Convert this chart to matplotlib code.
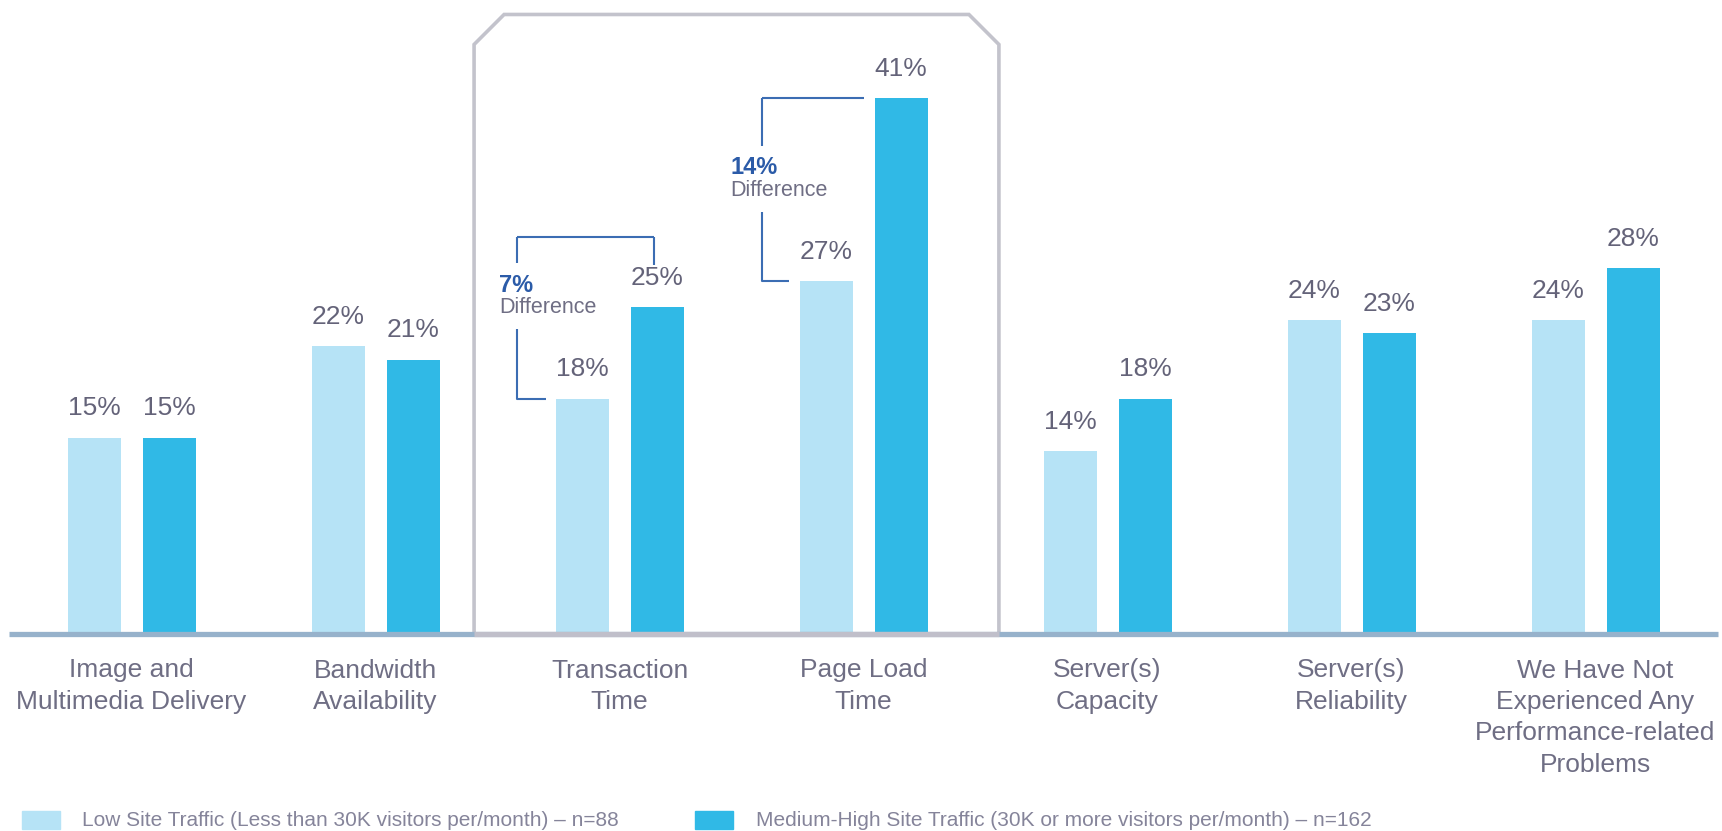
import matplotlib.pyplot as plt
from matplotlib.patches import Rectangle, Polygon

plt.rcParams['font.family'] = ['Liberation Sans', 'DejaVu Sans']

categories = [
    "Image and\nMultimedia Delivery",
    "Bandwidth\nAvailability",
    "Transaction\nTime",
    "Page Load\nTime",
    "Server(s)\nCapacity",
    "Server(s)\nReliability",
    "We Have Not\nExperienced Any\nPerformance-related\nProblems",
]
low_traffic = [15, 22, 18, 27, 14, 24, 24]
high_traffic = [15, 21, 25, 41, 18, 23, 28]
series_labels = [
    "Low Site Traffic (Less than 30K visitors per/month) \u2013 n=88",
    "Medium-High Site Traffic (30K or more visitors per/month) \u2013 n=162",
]

LIGHT = "#b6e3f6"
DARK = "#30b9e6"
VALUE_GRAY = "#646379"
LABEL_GRAY = "#6f6e84"
LEGEND_GRAY = "#85849a"
BRACKET = "#3b6db3"
BRACKET_TEXT = "#2b5ba8"
BOX_GRAY = "#c3c3cc"

W, H = 1722, 831
fig = plt.figure(figsize=(W / 100, H / 100), dpi=100)

# axes: baseline sits 634 px from the top, runs to the top edge
base_px = 634
ax = fig.add_axes([0, (H - base_px) / H, 1, base_px / H])
px_per_pct = 13.07
group_px = 244
x0_px = 131.5
ax.set_ylim(0, base_px / px_per_pct)
ax.set_xlim(-x0_px / group_px, (W - x0_px) / group_px)
ax.axis("off")

bar_w = 53 / group_px
off_l = -37 / group_px
off_r = 37.5 / group_px
xs = list(range(len(categories)))

ax.bar([x + off_l for x in xs], low_traffic, width=bar_w, color=LIGHT, zorder=2)
ax.bar([x + off_r for x in xs], high_traffic, width=bar_w, color=DARK, zorder=2)

lab_dy = 29.5 / px_per_pct
for x, a, b in zip(xs, low_traffic, high_traffic):
    ax.text(x + off_l, a + lab_dy, f"{a}%", ha="center", va="center",
            fontsize=19, color=VALUE_GRAY)
    ax.text(x + off_r, b + lab_dy, f"{b}%", ha="center", va="center",
            fontsize=19, color=VALUE_GRAY)

# category names under the baseline
for x, name in zip(xs, categories):
    ax.text(x, -24.5 / px_per_pct, name, ha="center", va="top", fontsize=19,
            color=LABEL_GRAY, linespacing=1.39, clip_on=False)

# highlight frame around the two time-related groups
bx0, bx1 = 1.404, 3.555
btop = 47.4
cx = 30 / group_px
cy = 30 / px_per_pct
frame = Polygon([(bx0, 0), (bx0, btop - cy), (bx0 + cx, btop), (bx1 - cx, btop),
                 (bx1, btop - cy), (bx1, 0)], closed=False, fill=False,
                edgecolor=BOX_GRAY, linewidth=2.6, zorder=3, joinstyle="miter")
ax.add_patch(frame)

# baseline, grey inside the frame
ax.plot([-0.502, 6.502], [0, 0], color="#97b2cb", linewidth=3.8,
        solid_capstyle="butt", zorder=4, clip_on=False)
ax.plot([bx0, bx1], [0, 0], color="#c0bfca", linewidth=3.8,
        solid_capstyle="butt", zorder=5, clip_on=False)


def bracket(x_left, x_right, x_foot, y_top, y_bottom, y_right_end,
            gap_top, gap_bottom, pct_text, tx, ty1, ty2):
    kw = dict(color=BRACKET, linewidth=1.5, zorder=4, solid_capstyle="butt")
    ax.plot([x_left, x_right], [y_top, y_top], **kw)
    if y_right_end is not None:
        ax.plot([x_right, x_right], [y_top, y_right_end], **kw)
    ax.plot([x_left, x_left], [y_top, gap_top], **kw)
    ax.plot([x_left, x_left, x_foot], [gap_bottom, y_bottom, y_bottom], **kw)
    ax.text(tx, ty1, pct_text, ha="left", va="center", fontsize=17,
            fontweight="bold", color=BRACKET_TEXT)
    ax.text(tx, ty2, "Difference", ha="left", va="center", fontsize=15.5,
            color=LABEL_GRAY)


# Transaction Time: 18% -> 25%
bracket(1.580, 2.141, 1.699, 30.4, low_traffic[2], 28.2, 28.4, 23.3,
        f"{high_traffic[2] - low_traffic[2]}%", 1.508, 26.7, 25.0)
# Page Load Time: 27% -> 41%
bracket(2.584, 3.002, 2.695, high_traffic[3], low_traffic[3], None, 37.3, 32.3,
        f"{high_traffic[3] - low_traffic[3]}%", 2.455, 35.7, 33.9)

# legend along the bottom edge
for (px, tx), color, label in zip([(22, 82), (695, 756)], [LIGHT, DARK], series_labels):
    fig.patches.append(Rectangle((px / W, 2 / H), 38 / W, 18 / H,
                                 transform=fig.transFigure, color=color))
    fig.text(tx / W, 11 / H, label, ha="left", va="center", fontsize=15,
             color=LEGEND_GRAY)

fig.savefig("out.png", dpi=100)
